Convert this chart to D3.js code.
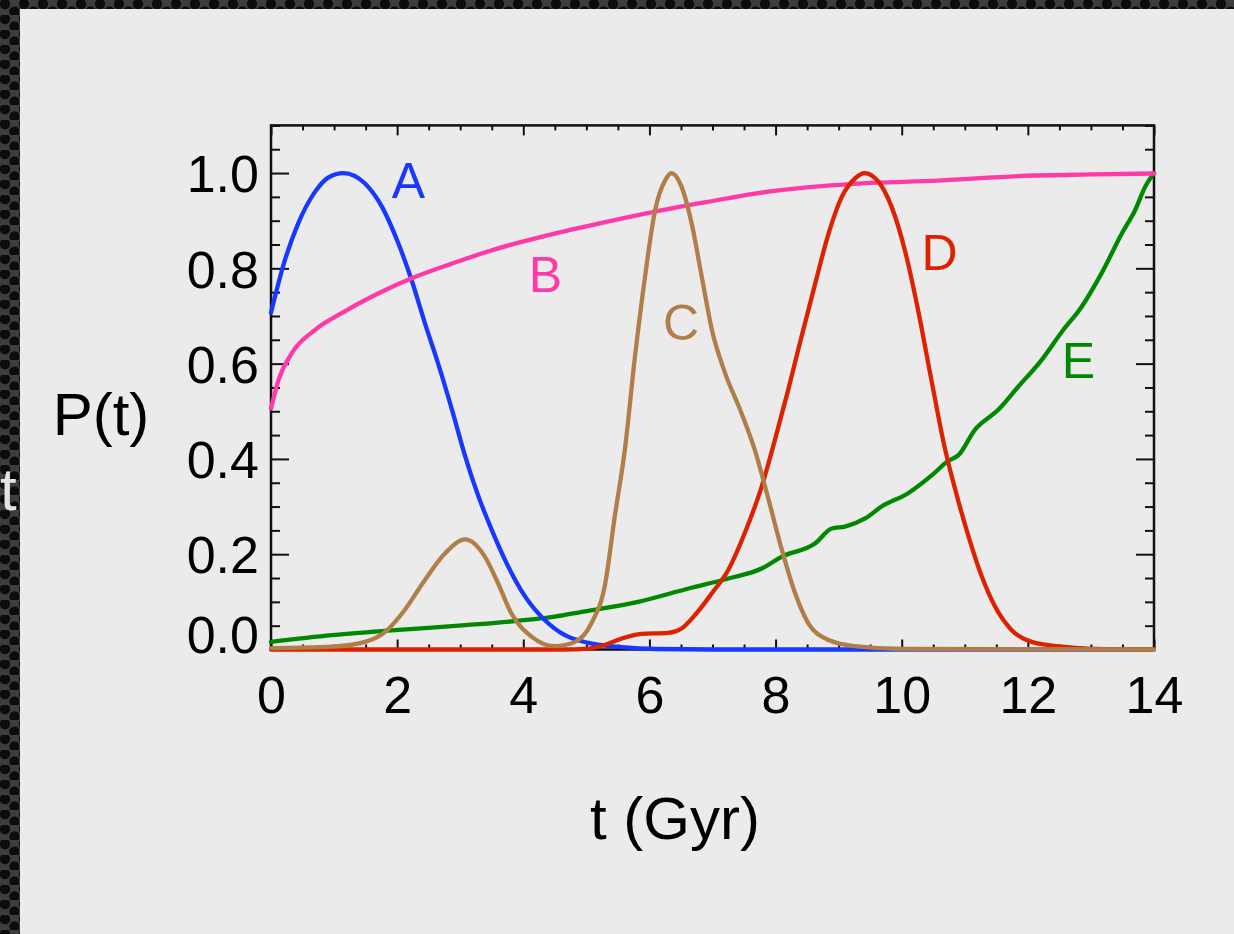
<!DOCTYPE html>
<html>
<head>
<meta charset="utf-8">
<script src="https://cdn.jsdelivr.net/npm/d3@7"></script>
<style>
  html, body { margin: 0; padding: 0; background: #2b2b2b; }
  svg { display: block; }
  text { font-family: 'Liberation Sans', Arial, Helvetica, sans-serif; }
</style>
</head>
<body>
<svg id="chart" width="1234" height="934"></svg>
<script>
// ---- data: probability curves P(t) for five populations ----
const tA = [0, 0.22, 0.43, 0.70, 0.90, 1.15, 1.49, 1.76, 2.02, 2.23, 2.44, 2.65, 2.87, 3.08, 3.29, 3.50, 3.71, 4.03, 4.34, 4.66, 5.03, 5.56, 6.1, 7, 14];
const pA = [0.707, 0.817, 0.894, 0.961, 0.990, 1.0, 0.978, 0.929, 0.852, 0.775, 0.685, 0.600, 0.503, 0.405, 0.321, 0.251, 0.188, 0.111, 0.062, 0.030, 0.014, 0.005, 0.001, 0, 0];

const tB = [0, 0.12, 0.33, 0.70, 1.12, 1.65, 2.23, 2.87, 3.60, 4.5, 5.3, 6.09, 6.9, 7.67, 8.5, 9.3, 10.58, 11.9, 13, 14];
const pB = [0.506, 0.566, 0.622, 0.671, 0.706, 0.744, 0.779, 0.810, 0.842, 0.873, 0.897, 0.919, 0.939, 0.957, 0.970, 0.978, 0.984, 0.994, 0.997, 0.999];

const tC = [0, 0.96, 1.49, 1.81, 2.12, 2.44, 2.76, 3.08, 3.39, 3.60, 3.81, 4.13, 4.50, 4.82, 5.08, 5.30, 5.45, 5.61, 5.77, 5.93, 6.09, 6.25, 6.35, 6.51, 6.67, 6.83, 6.99, 7.20, 7.46, 7.67, 7.89, 8.10, 8.31, 8.52, 8.84, 9.26, 10, 14];
const pC = [0.003, 0.006, 0.016, 0.037, 0.083, 0.146, 0.202, 0.231, 0.195, 0.139, 0.076, 0.027, 0.007, 0.016, 0.055, 0.139, 0.279, 0.419, 0.614, 0.782, 0.922, 0.985, 1.0, 0.971, 0.894, 0.782, 0.671, 0.580, 0.496, 0.419, 0.314, 0.209, 0.118, 0.055, 0.020, 0.007, 0.001, 0];

const tD = [0, 4.6, 5.03, 5.3, 5.56, 5.87, 6.30, 6.51, 6.72, 6.99, 7.25, 7.51, 7.78, 7.99, 8.20, 8.41, 8.63, 8.84, 9.05, 9.26, 9.41, 9.63, 9.84, 10.05, 10.26, 10.48, 10.69, 10.85, 11.06, 11.27, 11.48, 11.74, 12.06, 12.54, 12.96, 14];
const pD = [0, 0, 0.002, 0.010, 0.023, 0.033, 0.035, 0.044, 0.072, 0.118, 0.167, 0.244, 0.342, 0.440, 0.545, 0.656, 0.769, 0.873, 0.950, 0.989, 1.0, 0.982, 0.929, 0.838, 0.712, 0.559, 0.419, 0.335, 0.237, 0.153, 0.090, 0.041, 0.016, 0.006, 0.002, 0];

const tE = [0, 0.96, 2.02, 3.08, 4.13, 4.5, 4.93, 5.82, 6.62, 7.25, 7.78, 8.10, 8.63, 8.89, 9.10, 9.42, 9.68, 10.10, 10.48, 10.74, 10.90, 11.16, 11.53, 11.85, 12.22, 12.54, 12.85, 13.17, 13.49, 13.70, 13.86, 14];
const pE = [0.016, 0.030, 0.041, 0.051, 0.063, 0.069, 0.079, 0.100, 0.128, 0.149, 0.170, 0.195, 0.223, 0.254, 0.258, 0.275, 0.300, 0.328, 0.366, 0.396, 0.408, 0.461, 0.503, 0.552, 0.608, 0.667, 0.719, 0.790, 0.873, 0.922, 0.971, 1.0];

const seriesNames  = ["E", "A", "B", "D", "C"];   // drawing order
const seriesColors = { A: "#1638ff", B: "#ff3aa6", C: "#b07e48", D: "#dc2200", E: "#008800" };
// label anchor points, in data units (t, P)
const labelT = { A: 2.18, B: 4.35, C: 6.5, D: 10.6, E: 12.8 };
const labelP = { A: 0.948, B: 0.750, C: 0.650, D: 0.796, E: 0.569 };

const xMajorTicks = [0, 2, 4, 6, 8, 10, 12, 14];
const yMajorTicks = [0, 0.2, 0.4, 0.6, 0.8, 1.0];

const seriesData = {
  A: tA.map((t, i) => [t, pA[i]]),
  B: tB.map((t, i) => [t, pB[i]]),
  C: tC.map((t, i) => [t, pC[i]]),
  D: tD.map((t, i) => [t, pD[i]]),
  E: tE.map((t, i) => [t, pE[i]])
};

// ---- layout ----
const W = 1234, H = 934;
const plot = { left: 271, right: 1154, top: 125.4, bottom: 649.5 };

const svg = d3.select("#chart");

// perforated dark backdrop
const defs = svg.append("defs");
const pat = defs.append("pattern")
  .attr("id", "holes").attr("patternUnits", "userSpaceOnUse")
  .attr("width", 19).attr("height", 15);
pat.append("rect").attr("width", 19).attr("height", 15).attr("fill", "#3d3d3f");
pat.append("circle").attr("cx", 5).attr("cy", 4).attr("r", 5.2).attr("fill", "#0c0c0c");
pat.append("circle").attr("cx", 14.5).attr("cy", 11.5).attr("r", 5.2).attr("fill", "#0c0c0c");
svg.append("rect").attr("width", W).attr("height", H).attr("fill", "url(#holes)");

// light slide panel
svg.append("rect").attr("x", 20).attr("y", 9).attr("width", W - 20).attr("height", H - 9)
  .attr("fill", "#ebebeb");

// stray letter on the dark edge
svg.append("text").attr("x", 0).attr("y", 510)
  .attr("font-size", 60).attr("fill", "#e4e4e4").text("t");

const x = d3.scaleLinear().domain([0, 14]).range([plot.left, plot.right]);
const y = d3.scaleLinear().domain([0, 1.1]).range([plot.bottom, plot.top]);

const xMinor = d3.range(0, 14.001, 0.5).filter(v => Math.abs(v % 2) > 1e-6);
const yMinor = d3.range(0, 1.1001, 0.05).filter(v => Math.abs((v * 5) - Math.round(v * 5)) > 1e-6);

const axisColor = "#111";
function styleAxis(g) {
  g.select(".domain").remove();
  g.selectAll(".tick line").attr("stroke", axisColor).attr("stroke-width", 2);
}

// bottom axis (ticks point inward)
svg.append("g").attr("transform", `translate(0,${plot.bottom})`)
  .call(d3.axisBottom(x).tickValues(xMinor).tickSize(-5).tickFormat(""))
  .call(styleAxis);
const xAx = svg.append("g").attr("transform", `translate(0,${plot.bottom})`)
  .call(d3.axisBottom(x).tickValues(xMajorTicks).tickSize(-10).tickPadding(27).tickFormat(d3.format("d")))
  .call(styleAxis);
xAx.selectAll(".tick text").attr("font-size", 52).attr("fill", "#000")
  .attr("font-family", "'Liberation Sans', Arial, sans-serif");

// top axis
svg.append("g").attr("transform", `translate(0,${plot.top})`)
  .call(d3.axisTop(x).tickValues(xMinor).tickSize(-5).tickFormat(""))
  .call(styleAxis);
svg.append("g").attr("transform", `translate(0,${plot.top})`)
  .call(d3.axisTop(x).tickValues(xMajorTicks).tickSize(-10).tickFormat(""))
  .call(styleAxis);

// left axis
svg.append("g").attr("transform", `translate(${plot.left},0)`)
  .call(d3.axisLeft(y).tickValues(yMinor).tickSize(-9).tickFormat(""))
  .call(styleAxis);
const yAx = svg.append("g").attr("transform", `translate(${plot.left},0)`)
  .call(d3.axisLeft(y).tickValues(yMajorTicks).tickSize(-18).tickPadding(12).tickFormat(d3.format(".1f")))
  .call(styleAxis);
yAx.selectAll(".tick text").attr("font-size", 52).attr("fill", "#000")
  .attr("font-family", "'Liberation Sans', Arial, sans-serif")
  .attr("dy", d => d === 0 ? "0.05em" : "0.36em");

// right axis
svg.append("g").attr("transform", `translate(${plot.right},0)`)
  .call(d3.axisRight(y).tickValues(yMinor).tickSize(-9).tickFormat(""))
  .call(styleAxis);
svg.append("g").attr("transform", `translate(${plot.right},0)`)
  .call(d3.axisRight(y).tickValues(yMajorTicks).tickSize(-18).tickFormat(""))
  .call(styleAxis);

// frame
svg.append("rect")
  .attr("x", plot.left).attr("y", plot.top)
  .attr("width", plot.right - plot.left).attr("height", plot.bottom - plot.top)
  .attr("fill", "none").attr("stroke", axisColor).attr("stroke-width", 2.5);

// curves
const line = d3.line().x(d => x(d[0])).y(d => y(d[1])).curve(d3.curveMonotoneX);
svg.append("g").selectAll("path").data(seriesNames).join("path")
  .attr("d", k => line(seriesData[k]))
  .attr("fill", "none")
  .attr("stroke", k => seriesColors[k])
  .attr("stroke-width", 4.3)
  .attr("stroke-linejoin", "round")
  .attr("stroke-linecap", "round");

// curve labels
svg.append("g").selectAll("text").data(["A", "B", "C", "D", "E"]).join("text")
  .attr("x", k => x(labelT[k]))
  .attr("y", k => y(labelP[k]))
  .attr("text-anchor", "middle")
  .attr("font-size", 50)
  .attr("fill", k => seriesColors[k])
  .text(k => k);

// axis titles
svg.append("text").attr("x", 101).attr("y", 435).attr("text-anchor", "middle")
  .attr("font-size", 60).attr("fill", "#000").text("P(t)");
svg.append("text").attr("x", 675).attr("y", 839).attr("text-anchor", "middle")
  .attr("font-size", 60).attr("fill", "#000").text("t (Gyr)");
</script>
</body>
</html>
